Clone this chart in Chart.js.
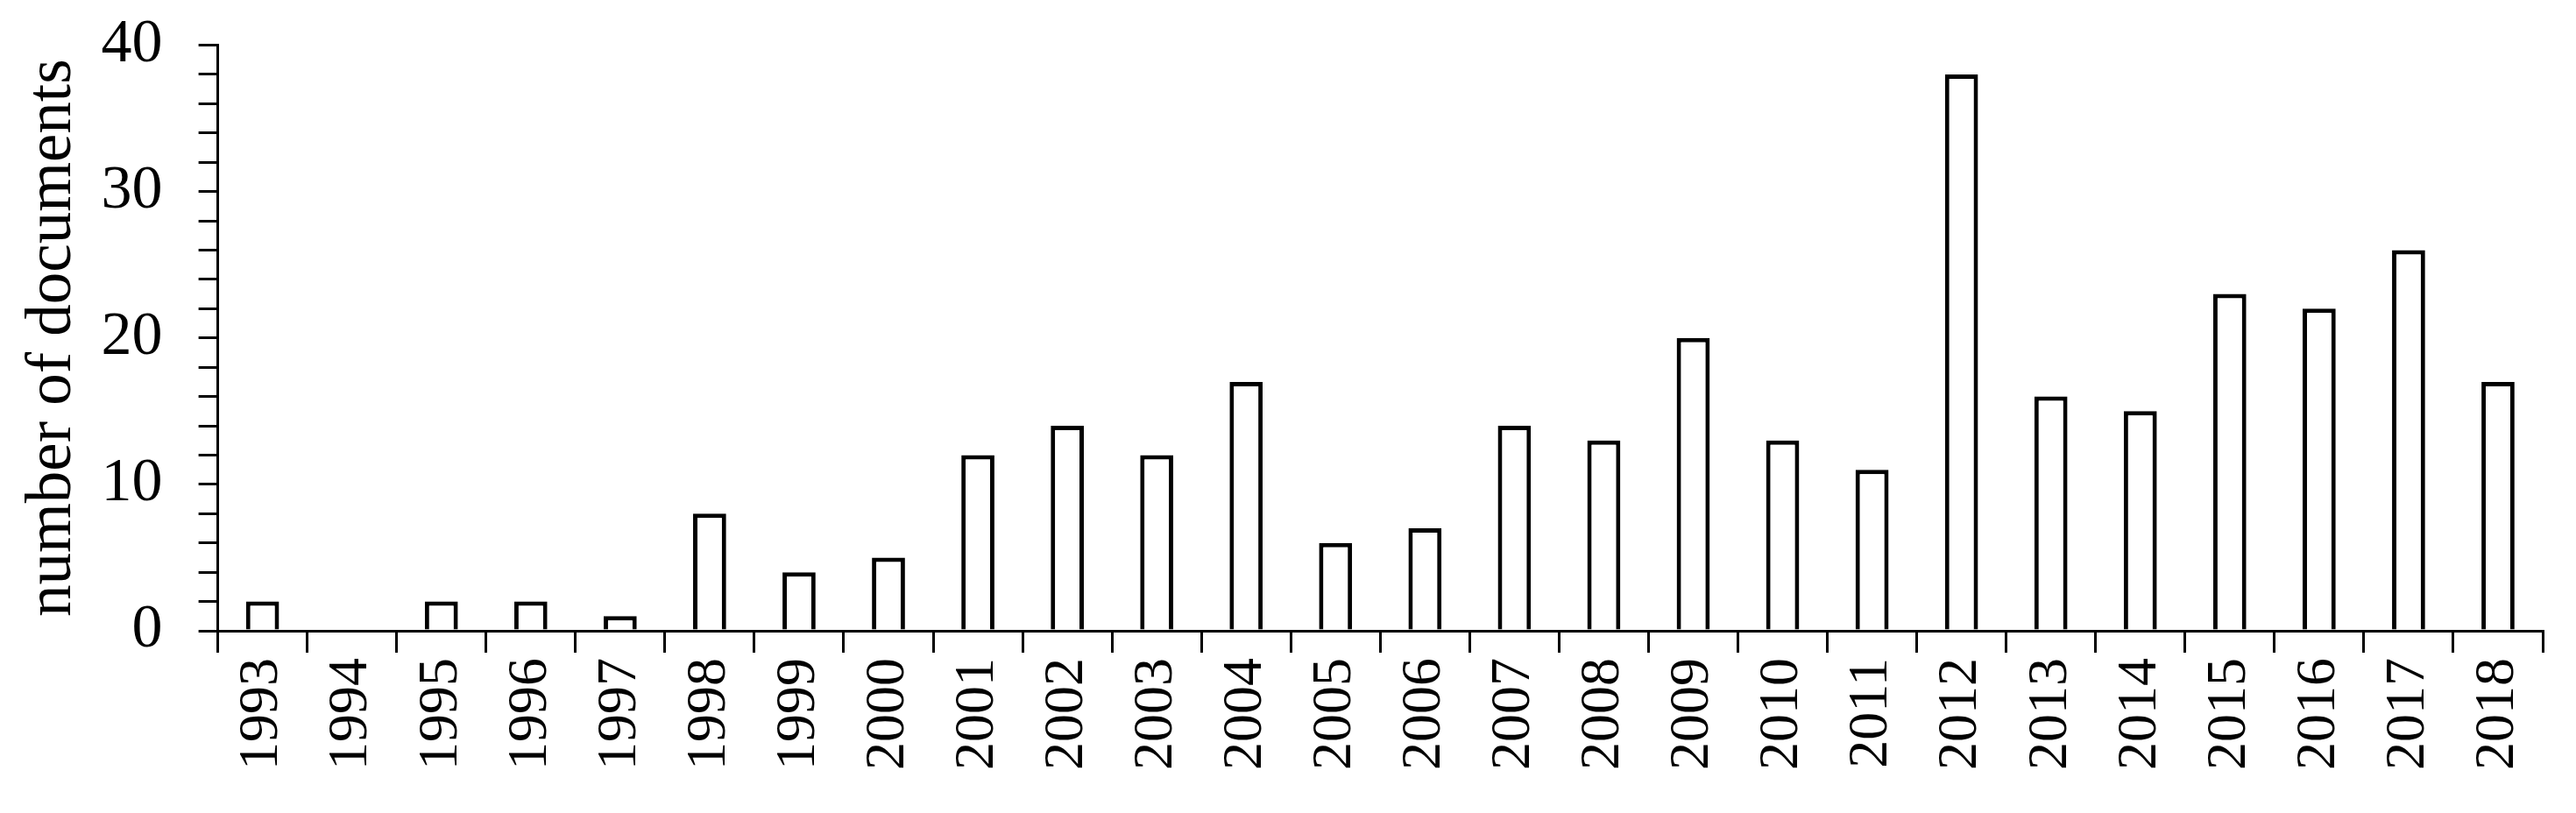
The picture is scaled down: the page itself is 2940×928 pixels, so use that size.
<!DOCTYPE html>
<html lang="en">
<head>
  <meta charset="UTF-8">
  <title>Number of documents per year</title>
  <script src="https://cdn.jsdelivr.net/npm/chart.js"></script>
  <style>
    body {
      background-color: #ffffff;
      margin: 0;
      padding: 0;
    }
    canvas {
      display: block;
    }
  </style>
</head>
<body>
  <canvas id="docsChart" width="2940" height="928"></canvas>

  <script>
    const years = ["1993", "1994", "1995", "1996", "1997", "1998", "1999", "2000", "2001", "2002",
                   "2003", "2004", "2005", "2006", "2007", "2008", "2009", "2010", "2011", "2012",
                   "2013", "2014", "2015", "2016", "2017", "2018"];
    const docCounts = [2, 0, 2, 2, 1, 8, 4, 5, 12, 14,
                       12, 17, 6, 7, 14, 13, 20, 13, 11, 38,
                       16, 15, 23, 22, 26, 17];
    const yMajorTicks = [0, 10, 20, 30, 40];

    const serif = "'Liberation Serif', 'DejaVu Serif', serif";
    Chart.defaults.color = "#000";

    new Chart(document.getElementById("docsChart").getContext("2d"), {
      type: 'bar',
      data: {
        labels: years,
        datasets: [{
          label: "number of documents",
          data: docCounts,
          backgroundColor: "#ffffff",
          borderColor: "#000000",
          borderWidth: 5,
          barPercentage: 0.37,
          categoryPercentage: 1.0
        }]
      },
      options: {
        responsive: false,
        animation: false,
        layout: {
          padding: { left: 17, right: 38, top: 0, bottom: 43 }
        },
        plugins: {
          legend: { display: false },
          tooltip: { enabled: false }
        },
        scales: {
          x: {
            offset: true,
            grid: {
              offset: true,
              drawOnChartArea: false,
              tickLength: 25,
              color: "#000",
              lineWidth: 3
            },
            border: { color: "#000", width: 3 },
            ticks: {
              minRotation: 90,
              maxRotation: 90,
              autoSkip: false,
              padding: 6,
              font: { family: serif, size: 64 }
            }
          },
          y: {
            min: 0,
            max: 40,
            grid: {
              drawOnChartArea: false,
              tickLength: 22,
              color: "#000",
              lineWidth: 3
            },
            border: { color: "#000", width: 3 },
            ticks: {
              stepSize: 2,
              autoSkip: false,
              padding: 41,
              // small lineHeight: the top of the axis is set by half a label height + padding
              font: { family: serif, size: 70, lineHeight: 0.3 },
              callback: value => yMajorTicks.includes(value) ? value : ''
            },
            title: {
              display: true,
              text: "number of documents",
              font: { family: serif, size: 73 },
              padding: { top: 0, bottom: -30 }
            }
          }
        }
      }
    });
  </script>
</body>
</html>
